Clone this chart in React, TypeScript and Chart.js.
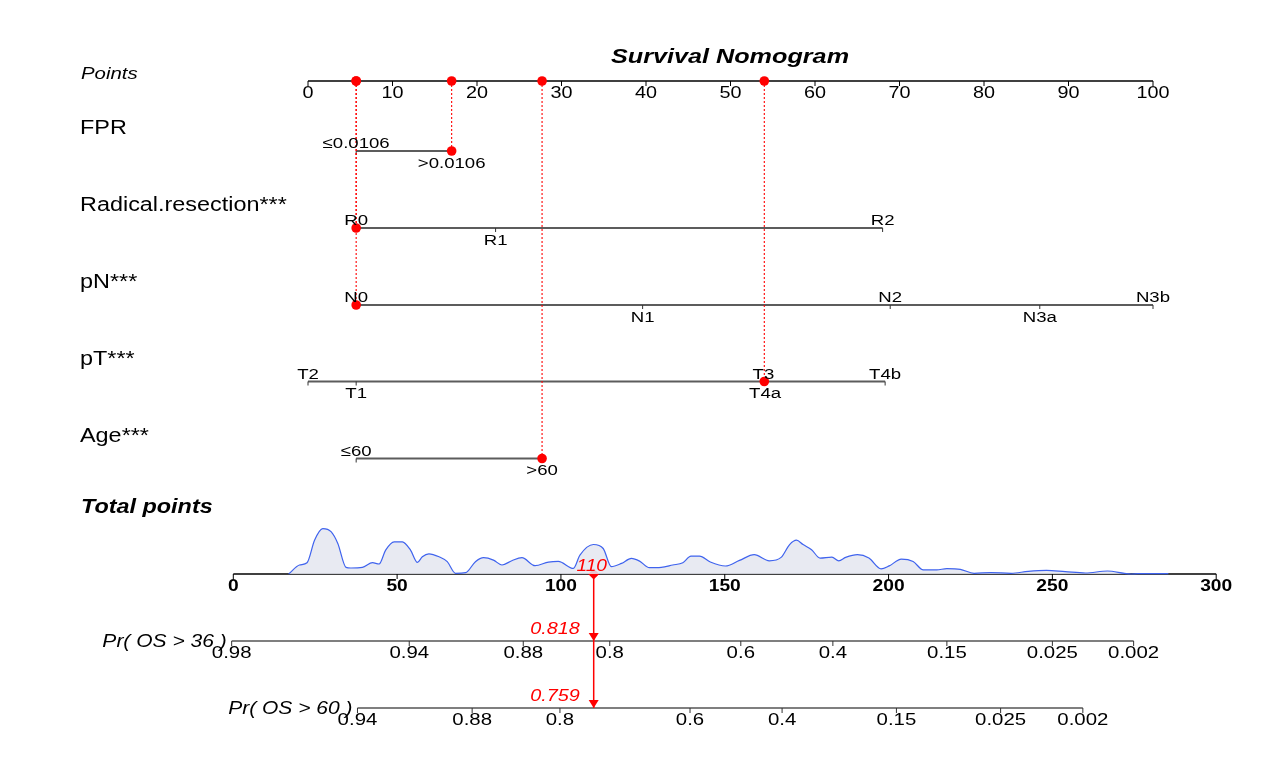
import React, { useEffect, useRef } from "react";
import { Chart, registerables } from "chart.js";
Chart.register(...registerables);

// ---------------- data ----------------
const titleText = "Survival Nomogram";
const pointsTicks = [0, 10, 20, 30, 40, 50, 60, 70, 80, 90, 100];
const totalTicks = [0, 50, 100, 150, 200, 250, 300];

const variableNames = ["FPR", "Radical.resection***", "pN***", "pT***", "Age***"];
const fprLevels = ["≤0.0106", ">0.0106"];
const fprPoints = [5.7, 17.0];
const resectionLevels = ["R0", "R1", "R2"];
const resectionPoints = [5.7, 22.2, 68.0];
const pnLevels = ["N0", "N1", "N2", "N3a", "N3b"];
const pnPoints = [5.7, 39.6, 68.9, 86.6, 100];
const ptLevels = ["T2", "T1", "T3", "T4a", "T4b"];
const ptPoints = [0, 5.7, 53.9, 54.1, 68.3];
const ageLevels = ["≤60", ">60"];
const agePoints = [5.7, 27.7];

// points of the highlighted patient, one per variable
const selectedPoints = [17.0, 5.7, 5.7, 54.0, 27.7];
const totalScore = 110;
const totalScoreLabel = "110";
const os36Value = "0.818";
const os60Value = "0.759";

// density of total points (relative height)
const densityX = [16.9, 20.2, 22.5, 24.8, 27.3, 29.9, 31.9, 34.4, 35.9, 39.4, 42.5, 44.5, 46.5, 49.1, 51.6, 54.1, 56.2, 57.7, 59.7, 62.8, 65.3, 67.8, 70.9, 73.9, 76.4, 79.4, 82.0, 85.0, 88.1, 92.1, 96.2, 99.2, 103.8, 105.8, 109.9, 112.9, 115.4, 118.5, 121.5, 124.0, 127.0, 130.6, 134.1, 137.2, 139.7, 142.3, 145.6, 150.2, 154.5, 159.0, 163.6, 167.2, 169.8, 171.9, 173.9, 176.5, 179.1, 182.7, 184.8, 186.9, 190.5, 194.0, 197.7, 200.2, 203.9, 207.5, 210.6, 214.7, 217.8, 221.9, 226.1, 231.2, 237.4, 242.6, 248.2, 253.9, 260.1, 266.8, 272.0, 274.0, 276.1, 285.4];
const densityY = [0, 9.0, 11.3, 33.8, 45.4, 42.1, 30.5, 6.6, 6.0, 6.6, 11.3, 10.0, 23.9, 32.2, 32.2, 23.9, 11.6, 17.2, 20.2, 17.2, 12.3, 0.7, 1.3, 12.3, 16.3, 13.9, 9.0, 13.3, 16.3, 8.3, 11.9, 12.6, 5.6, 18.9, 29.5, 25.5, 7.3, 10.6, 15.6, 12.9, 6.3, 6.6, 9.0, 11.3, 17.9, 17.9, 12.0, 8.0, 13.6, 19.3, 13.2, 16.6, 29.4, 33.8, 29.4, 24.3, 15.9, 16.9, 13.2, 16.6, 19.3, 15.9, 5.1, 8.1, 14.9, 12.5, 4.1, 4.1, 5.4, 4.7, 0.7, 1.4, 0.7, 2.7, 3.7, 2.4, 1.0, 3.0, 0.7, 0, 0.3, 0.3];

const os36Label = "Pr( OS > 36 )";
const os36TickLabels = ["0.98", "0.94", "0.88", "0.8", "0.6", "0.4", "0.15", "0.025", "0.002"];
const os36TickTotals = [-0.5, 53.7, 88.5, 114.9, 154.9, 183.0, 217.8, 250.0, 274.8];
const os60Label = "Pr( OS > 60 )";
const os60TickLabels = ["0.94", "0.88", "0.8", "0.6", "0.4", "0.15", "0.025", "0.002"];
const os60TickTotals = [37.9, 72.9, 99.7, 139.4, 167.5, 202.4, 234.2, 259.3];

// ---------------- layout ----------------
const W = 1285;
const H = 760;
const PTS_PX0 = 308;
const PTS_PX100 = 1153;
const TOT_PX0 = 233.3;
const TOT_PX300 = 1216.2;
const ROW_POINTS = 81;
const ROW_VARS = [151, 228, 305, 381.5, 458.5];
const ROW_TOTAL = 574;
const ROW_OS36 = 641;
const ROW_OS60 = 708;
const SX = 1.2; // horizontal text stretch
const FONT = '"Liberation Sans", Arial, sans-serif';
const RED = "#ff0000";

const levelNames = [fprLevels, resectionLevels, pnLevels, ptLevels, ageLevels];
const levelPoints = [fprPoints, resectionPoints, pnPoints, ptPoints, agePoints];

function txt(ctx: CanvasRenderingContext2D, s: string, x: number, y: number, font: string, color: string, align: CanvasTextAlign) {
  ctx.save();
  ctx.translate(x, y);
  ctx.scale(SX, 1);
  ctx.font = font;
  ctx.fillStyle = color;
  ctx.textAlign = align;
  ctx.textBaseline = "alphabetic";
  ctx.fillText(s, 0, 0);
  ctx.restore();
}

function hline(ctx: CanvasRenderingContext2D, x1: number, x2: number, y: number, color: string, w: number) {
  ctx.save();
  ctx.strokeStyle = color;
  ctx.lineWidth = w;
  ctx.beginPath();
  ctx.moveTo(x1, y);
  ctx.lineTo(x2, y);
  ctx.stroke();
  ctx.restore();
}

function vtick(ctx: CanvasRenderingContext2D, x: number, y: number, len: number, color: string, w: number) {
  ctx.save();
  ctx.strokeStyle = color;
  ctx.lineWidth = w;
  ctx.beginPath();
  ctx.moveTo(x, y);
  ctx.lineTo(x, y + len);
  ctx.stroke();
  ctx.restore();
}

const nomogramPlugin = {
  id: "nomogram",
  beforeDatasetsDraw(chart: any) {
    const ctx: CanvasRenderingContext2D = chart.ctx;
    const xp = chart.scales.xPts;
    const xt = chart.scales.xTot;
    const yr = chart.scales.yRow;
    // points axis
    const py = yr.getPixelForValue(ROW_POINTS);
    hline(ctx, xp.getPixelForValue(pointsTicks[0]), xp.getPixelForValue(pointsTicks[pointsTicks.length - 1]), py, "#000", 1.3);
    pointsTicks.forEach((t) => vtick(ctx, xp.getPixelForValue(t), py, 5, "#000", 1));
    // variable axes
    levelPoints.forEach((pts, i) => {
      const y = yr.getPixelForValue(ROW_VARS[i]);
      hline(ctx, xp.getPixelForValue(Math.min(...pts)), xp.getPixelForValue(Math.max(...pts)), y, "#5c5c5c", 2);
      pts.forEach((p) => vtick(ctx, xp.getPixelForValue(p), y, 4, "#333", 1));
    });
    // total points axis
    const ty = yr.getPixelForValue(ROW_TOTAL);
    hline(ctx, xt.getPixelForValue(totalTicks[0]), xt.getPixelForValue(totalTicks[totalTicks.length - 1]), ty, "#000", 1.3);
    totalTicks.forEach((t) => vtick(ctx, xt.getPixelForValue(t), ty, 5, "#000", 1));
    // survival axes
    const drawSurv = (ticks: number[], row: number) => {
      const y = yr.getPixelForValue(row);
      hline(ctx, xt.getPixelForValue(ticks[0]), xt.getPixelForValue(ticks[ticks.length - 1]), y, "#555", 1.6);
      ticks.forEach((t) => vtick(ctx, xt.getPixelForValue(t), y, 5, "#333", 1));
    };
    drawSurv(os36TickTotals, ROW_OS36);
    drawSurv(os60TickTotals, ROW_OS60);
  },
  afterDatasetsDraw(chart: any) {
    const ctx: CanvasRenderingContext2D = chart.ctx;
    const xp = chart.scales.xPts;
    const xt = chart.scales.xTot;
    const yr = chart.scales.yRow;
    // title
    txt(ctx, titleText, 730, 63, `italic bold 21px ${FONT}`, "#000", "center");
    // points
    const py = yr.getPixelForValue(ROW_POINTS);
    txt(ctx, "Points", 81, py - 2, `italic 17px ${FONT}`, "#000", "left");
    pointsTicks.forEach((t) => txt(ctx, String(t), xp.getPixelForValue(t), py + 17, `16.5px ${FONT}`, "#000", "center"));
    // variables
    variableNames.forEach((name, i) => {
      const y = yr.getPixelForValue(ROW_VARS[i]);
      txt(ctx, name, 80, y - 17, `19.5px ${FONT}`, "#000", "left");
      const pts = levelPoints[i];
      levelNames[i].forEach((lab, j) => {
        const x = xp.getPixelForValue(pts[j]);
        const ly = j % 2 === 0 ? y - 3 : y + 16.5;
        txt(ctx, lab, x, ly, `15.5px ${FONT}`, "#000", "center");
      });
    });
    // total points
    const ty = yr.getPixelForValue(ROW_TOTAL);
    txt(ctx, "Total points", 81, ty - 61, `italic bold 19.5px ${FONT}`, "#000", "left");
    totalTicks.forEach((t) => txt(ctx, String(t), xt.getPixelForValue(t), ty + 17, `bold 16px ${FONT}`, "#000", "center"));
    // survival
    const drawSurvText = (label: string, ticks: number[], labels: string[], row: number, val: string) => {
      const y = yr.getPixelForValue(row);
      txt(ctx, label, xt.getPixelForValue(ticks[0]) - 5, y + 6, `italic 17.5px ${FONT}`, "#000", "right");
      labels.forEach((l, k) => txt(ctx, l, xt.getPixelForValue(ticks[k]), y + 17, `17px ${FONT}`, "#000", "center"));
      const xs = xt.getPixelForValue(totalScore);
      txt(ctx, val, xs - 14, y - 7, `italic 16.5px ${FONT}`, RED, "right");
      // arrowhead
      ctx.save();
      ctx.fillStyle = RED;
      ctx.beginPath();
      ctx.moveTo(xs - 5, y - 8);
      ctx.lineTo(xs + 5, y - 8);
      ctx.lineTo(xs, y);
      ctx.closePath();
      ctx.fill();
      ctx.restore();
    };
    drawSurvText(os36Label, os36TickTotals, os36TickLabels, ROW_OS36, os36Value);
    drawSurvText(os60Label, os60TickTotals, os60TickLabels, ROW_OS60, os60Value);
    txt(ctx, totalScoreLabel, xt.getPixelForValue(totalScore) - 2, ty - 3, `italic 16px ${FONT}`, RED, "center");
  },
};

export default function App() {
  const ref = useRef<HTMLCanvasElement>(null);
  useEffect(() => {
    const ppuP = (PTS_PX100 - PTS_PX0) / 100;
    const ppuT = (TOT_PX300 - TOT_PX0) / 300;
    const datasets: any[] = [];
    datasets.push({
      label: "density",
      data: densityX.map((x, i) => ({ x, y: densityY[i] })),
      xAxisID: "xTot",
      yAxisID: "yDen",
      borderColor: "#3f63ee",
      borderWidth: 1.2,
      backgroundColor: "rgba(228,230,240,0.85)",
      fill: "origin",
      pointRadius: 0,
      cubicInterpolationMode: "monotone",
    });
    selectedPoints.forEach((p, i) => {
      datasets.push({
        label: "guide" + i,
        data: [{ x: p, y: ROW_POINTS }, { x: p, y: ROW_VARS[i] }],
        xAxisID: "xPts",
        yAxisID: "yRow",
        borderColor: RED,
        borderWidth: 1.1,
        borderDash: [2, 2],
        pointRadius: 0,
        fill: false,
      });
    });
    const dots: any[] = [];
    selectedPoints.forEach((p, i) => {
      dots.push({ x: p, y: ROW_POINTS });
      dots.push({ x: p, y: ROW_VARS[i] });
    });
    datasets.push({
      label: "dots",
      data: dots,
      xAxisID: "xPts",
      yAxisID: "yRow",
      showLine: false,
      pointRadius: 4.8,
      pointBackgroundColor: RED,
      pointBorderColor: RED,
      pointBorderWidth: 0,
    });
    datasets.push({
      label: "totalLine",
      data: [{ x: totalScore, y: ROW_TOTAL }, { x: totalScore, y: ROW_OS60 }],
      xAxisID: "xTot",
      yAxisID: "yRow",
      borderColor: RED,
      borderWidth: 1.5,
      pointRadius: [4.5, 0],
      pointStyle: "rectRot",
      pointBackgroundColor: RED,
      pointBorderColor: RED,
      fill: false,
    });
    const chart = new Chart(ref.current!, {
      type: "line",
      data: { datasets },
      plugins: [nomogramPlugin],
      options: {
        animation: false,
        responsive: false,
        devicePixelRatio: 1,
        events: [],
        layout: { padding: 0, autoPadding: false },
        plugins: { legend: { display: false }, tooltip: { enabled: false }, title: { display: false } },
        elements: { line: { tension: 0 } },
        scales: {
          xPts: { type: "linear", display: false, min: -PTS_PX0 / ppuP, max: (W - PTS_PX0) / ppuP },
          xTot: { type: "linear", display: false, min: -TOT_PX0 / ppuT, max: (W - TOT_PX0) / ppuT },
          yRow: { type: "linear", display: false, min: 0, max: H, reverse: true },
          yDen: { type: "linear", display: false, min: -(H - ROW_TOTAL), max: ROW_TOTAL },
        },
      } as any,
    });
    return () => chart.destroy();
  }, []);
  return (
    <div style={{ position: "absolute", left: 0, top: 0, width: W, height: H, background: "#fff" }}>
      <canvas ref={ref} width={W} height={H} style={{ width: W, height: H, display: "block" }} />
    </div>
  );
}
